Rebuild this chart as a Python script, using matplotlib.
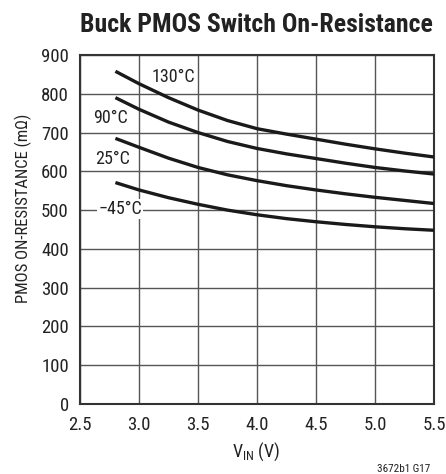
import matplotlib
matplotlib.use("Agg")
import matplotlib.pyplot as plt
from matplotlib import font_manager

names = {f.name for f in font_manager.fontManager.ttflist}
prefs = ['Nimbus Sans Narrow', 'Liberation Sans Narrow', 'Arial Narrow', 'Roboto Condensed',
         'Archivo Narrow', 'PT Sans Narrow', 'Open Sans Condensed', 'Liberation Sans']
FONT = next((p for p in prefs if p in names), 'DejaVu Sans')
plt.rcParams['font.family'] = [FONT, 'DejaVu Sans']
plt.rcParams['mathtext.fontset'] = 'custom'
plt.rcParams['mathtext.rm'] = FONT

vin = [2.8, 3.0, 3.25, 3.5, 3.75, 4.0, 4.25, 4.5, 4.75, 5.0, 5.25, 5.5]
r_130 = [858, 826, 790, 758, 731, 710, 696, 683, 670, 658, 647, 637]
r_90 = [790, 760, 727, 700, 677, 659, 645, 633, 621, 610, 601, 593]
r_25 = [685, 662, 634, 610, 591, 576, 563, 552, 542, 533, 525, 517]
r_m45 = [571, 552, 532, 515, 500, 488, 478, 470, 463, 457, 452, 448]
series = [r_130, r_90, r_25, r_m45]
labels = ["130°C", "90°C", "25°C", "\u221245°C"]
label_pos = [(3.29, 844), (2.76, 737), (2.78, 633), (2.84, 503)]

xticks = [2.5, 3.0, 3.5, 4.0, 4.5, 5.0, 5.5]
yticks = [0, 100, 200, 300, 400, 500, 600, 700, 800, 900]

fig = plt.figure(figsize=(4.46, 4.74), dpi=100)
ax = fig.add_axes([80/446, 70/474, 354/446, 349/474])
ax.set_xlim(2.5, 5.5)
ax.set_ylim(0, 900)
ax.set_xticks(xticks)
ax.set_xticklabels([f"{t:.1f}" for t in xticks])
ax.set_yticks(yticks)
ax.tick_params(length=0, labelsize=13.5, colors='#222222')
ax.tick_params(axis='x', pad=9)
ax.tick_params(axis='y', pad=8)
ax.grid(True, color='#555555', linewidth=1.0)
ax.set_axisbelow(True)
for s in ax.spines.values():
    s.set_linewidth(1.5)
    s.set_color('#333333')

for ys in series:
    ax.plot(vin, ys, color='#1a1a1a', linewidth=2.4, solid_capstyle='butt', zorder=3)

for lab, (x, y) in zip(labels, label_pos):
    ax.text(x, y, lab, fontsize=13, ha='center', va='center', color='#222222', zorder=4,
            bbox=dict(facecolor='white', edgecolor='none', pad=0.8))

ax.set_xlabel("V$_{\\mathregular{IN}}$ (V)", fontsize=13, color='#222222')
ax.xaxis.set_label_coords((256 - 80) / 354, -(440 - 404) / 349)
ax.set_ylabel("PMOS ON-RESISTANCE (m\u03a9)", fontsize=12, color='#222222', va='center')
ax.yaxis.set_label_coords((23 - 80) / 354, (404 - 208) / 349)

fig.text(256/446, 1 - 25/474, "Buck PMOS Switch On-Resistance", ha='center', va='center',
         fontsize=18.5, fontweight='bold', color='#222222')
fig.text(430/446, 1 - 469/474, "3672b1 G17", ha='right', va='center', fontsize=8, color='#222222')

fig.savefig("out.png", dpi=100)
